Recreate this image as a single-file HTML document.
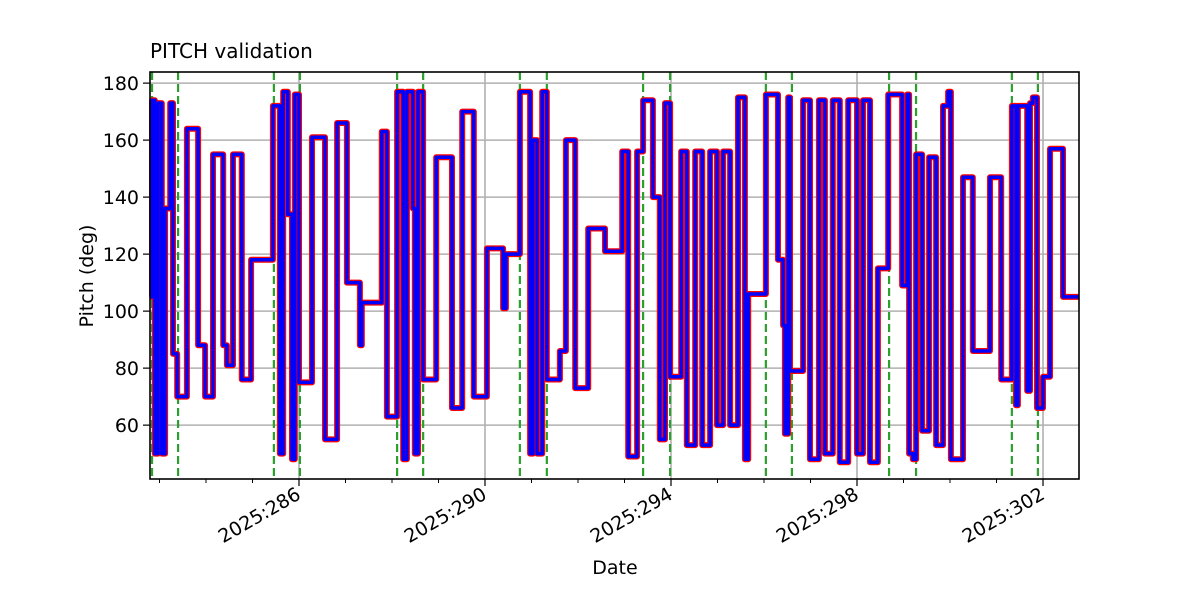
<!DOCTYPE html>
<html><head><meta charset="utf-8"><style>
body{margin:0;background:#fff}
svg{display:block;font-family:"DejaVu Sans","Liberation Sans",sans-serif}
</style></head><body>
<svg id="chart" width="1200" height="600">
<rect width="1200" height="600" fill="#fff"/>
<g id="grid"></g>
<g id="vlines"></g>
<g id="series"></g>
<rect x="150" y="72" width="929" height="407" fill="none" stroke="#000" stroke-width="1.6"/>
<g id="axes"></g>
<text x="150" y="58" font-size="20">PITCH validation</text>
<text x="615" y="574" font-size="19" text-anchor="middle">Date</text>
<text transform="translate(93,276) rotate(-90)" font-size="19" text-anchor="middle">Pitch (deg)</text>
</svg>
<script>
const times=[282.80,282.84,282.90,282.97,283.05,283.12,283.23,283.29,283.38,283.59,283.83,283.98,284.15,284.37,284.45,284.58,284.77,284.97,285.44,285.59,285.66,285.76,285.85,285.91,286.00,286.28,286.56,286.82,287.03,287.31,287.35,287.78,287.89,288.11,288.24,288.32,288.45,288.49,288.56,288.67,288.95,289.29,289.51,289.76,290.04,290.39,290.45,290.75,290.97,291.03,291.12,291.23,291.33,291.61,291.74,291.94,292.22,292.58,292.95,293.08,293.27,293.40,293.61,293.76,293.87,293.98,294.22,294.34,294.52,294.67,294.84,294.99,295.12,295.27,295.44,295.59,295.66,296.04,296.30,296.41,296.45,296.52,296.56,296.84,296.99,297.18,297.31,297.48,297.63,297.81,298.00,298.13,298.28,298.45,298.67,298.97,299.08,299.12,299.20,299.27,299.40,299.55,299.70,299.85,299.96,300.02,300.28,300.49,300.86,301.10,301.33,301.42,301.46,301.66,301.72,301.78,301.87,302.00,302.15,302.43];
const pitch=[105,174,50,173,50,136,173,85,70,164,88,70,155,88,81,155,76,118,172,50,177,134,48,176,75,161,55,166,110,88,103,163,63,177,48,177,136,50,177,76,154,66,170,70,122,101,120,177,50,160,50,177,76,86,160,73,129,121,156,49,156,174,140,55,173,77,156,53,156,53,156,60,156,60,175,48,106,176,118,95,57,175,79,174,48,174,50,174,47,174,50,174,47,115,176,109,176,50,48,155,58,154,53,172,177,48,147,86,147,76,172,67,172,72,173,175,66,77,157,105];
const endTime=302.77;
const markers=[282.84,283.40,285.46,286.02,288.11,288.67,290.75,291.33,293.40,293.98,296.04,296.60,298.69,299.27,301.33,301.89];
const yTicks=[60,80,100,120,140,160,180];
const xTicks=[286,290,294,298,302];
const xTickLabels=["2025:286","2025:290","2025:294","2025:298","2025:302"];

const NS="http://www.w3.org/2000/svg";
const X0=150,X1=1079,Y0=72,Y1=479;
const xMin=282.796,xMax=302.774,yMin=41.1,yMax=183.9;
const sx=d=>X0+(d-xMin)/(xMax-xMin)*(X1-X0);
const sy=v=>Y1-(v-yMin)/(yMax-yMin)*(Y1-Y0);
function mk(tag,attrs,parent){const e=document.createElementNS(NS,tag);for(const k in attrs)e.setAttribute(k,attrs[k]);parent.appendChild(e);return e;}
const grid=document.getElementById('grid'),axes=document.getElementById('axes');
yTicks.forEach(v=>{
 const g=mk('line',{x1:X0,x2:X1,y1:sy(v),y2:sy(v),stroke:'#b0b0b0','stroke-width':1.6},grid);
 
 
 mk('line',{x1:X0-7,x2:X0,y1:sy(v),y2:sy(v),stroke:'#000','stroke-width':1.2},axes);
 const t=mk('text',{x:X0-11,y:sy(v)+7,'font-size':19,'text-anchor':'end'},axes);
 t.textContent=v;
 
 
});
for(let d=283;d<=302;d++){
 if(xTicks.indexOf(d)<0) mk('line',{x1:sx(d),x2:sx(d),y1:Y1,y2:Y1+4,stroke:'#000','stroke-width':1},axes);
}
xTicks.forEach((d,i)=>{
 const g=mk('line',{x1:sx(d),x2:sx(d),y1:Y0,y2:Y1,stroke:'#b0b0b0','stroke-width':1.6},grid);
 
 
 mk('line',{x1:sx(d),x2:sx(d),y1:Y1,y2:Y1+7,stroke:'#000','stroke-width':1.2},axes);
 const t=mk('text',{transform:`translate(${sx(d)+3},${Y1+19}) rotate(-30)`,'font-size':19,'text-anchor':'end'},axes);
 t.textContent=xTickLabels[i];
 
 
});
const vl=document.getElementById('vlines');
markers.forEach(d=>{
 const l=mk('line',{x1:sx(d),x2:sx(d),y1:Y0,y2:Y1,stroke:'#2ca02c','stroke-width':2.2,'stroke-dasharray':'8,4'},vl);
 
 
});
let p='';
for(let i=0;i<times.length;i++){
 const x=sx(times[i]),y=sy(pitch[i]);
 const xe=sx(i+1<times.length?times[i+1]:endTime);
 p+=(i===0?'M':'L')+x.toFixed(1)+','+y.toFixed(1)+'L'+xe.toFixed(1)+','+y.toFixed(1);
}
const s=document.getElementById('series');
const red=mk('path',{d:p,fill:'none',stroke:'#ff0000','stroke-width':6,'stroke-linejoin':'round'},s);


const blue=mk('path',{d:p,fill:'none',stroke:'#0000ff','stroke-width':3.5,'stroke-linejoin':'round'},s);


</script>
</body></html>
